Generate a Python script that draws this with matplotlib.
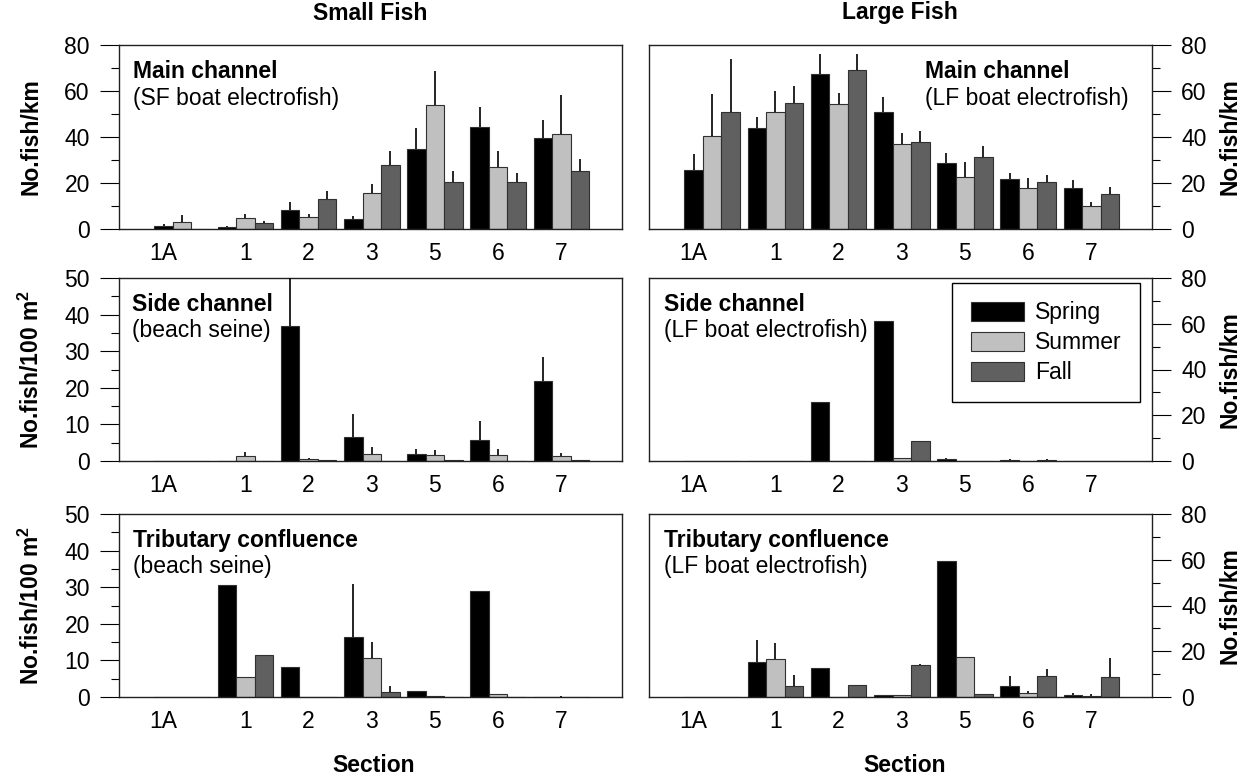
import numpy as np
import matplotlib
matplotlib.use("Agg")
import matplotlib.pyplot as plt
from matplotlib.ticker import MultipleLocator

plt.rcParams['font.family'] = ['Liberation Sans', 'DejaVu Sans']
plt.rcParams['mathtext.fontset'] = 'custom'
plt.rcParams['mathtext.rm'] = 'Liberation Sans'
plt.rcParams['mathtext.bf'] = 'Liberation Sans:bold'
plt.rcParams['font.size'] = 16.5

sections = ['1A', '1', '2', '3', '5', '6', '7']
seasons = ['Spring', 'Summer', 'Fall']
season_colors = ['#000000', '#c0c0c0', '#606060']

# small fish, main channel (No.fish/km)
sf_main_spring = [1.2, 0.9, 8.3, 4.2, 34.6, 44.3, 39.7]
sf_main_spring_err = [1.1, 0.5, 3.4, 1.3, 9.3, 8.7, 7.8]
sf_main_summer = [3.0, 4.6, 5.1, 15.8, 54.1, 27.1, 41.3]
sf_main_summer_err = [3.2, 1.8, 1.6, 3.8, 14.5, 7.0, 17.1]
sf_main_fall = [0, 2.6, 13.0, 27.8, 20.3, 20.3, 25.1]
sf_main_fall_err = [0, 0.9, 3.4, 6.1, 4.9, 4.0, 5.5]

# large fish, main channel (No.fish/km)
lf_main_spring = [25.6, 43.7, 67.3, 50.7, 28.8, 21.6, 17.7]
lf_main_spring_err = [7.1, 5.0, 8.7, 6.6, 4.3, 2.9, 3.5]
lf_main_summer = [40.5, 50.7, 54.3, 37.0, 22.8, 17.7, 9.8]
lf_main_summer_err = [18.3, 9.3, 4.8, 4.8, 6.3, 4.3, 2.0]
lf_main_fall = [51.0, 54.8, 69.0, 38.0, 31.3, 20.3, 15.4]
lf_main_fall_err = [23.0, 7.2, 6.9, 4.5, 5.0, 3.3, 2.8]

# small fish, side channel (No.fish/100 m2)
sf_side_spring = [0, 0, 36.8, 6.6, 1.9, 5.7, 21.9]
sf_side_spring_err = [0, 0, 15.2, 6.2, 1.4, 5.2, 6.6]
sf_side_summer = [0, 1.4, 0.5, 1.8, 1.6, 1.6, 1.4]
sf_side_summer_err = [0, 1.1, 0.4, 2.0, 1.4, 1.6, 0.8]
sf_side_fall = [0, 0, 0.15, 0, 0.15, 0, 0.15]
sf_side_fall_err = [0, 0, 0.2, 0, 0.2, 0, 0.2]

# large fish, side channel (No.fish/km)
lf_side_spring = [0, 0, 25.8, 61.3, 0.9, 0.6, 0]
lf_side_spring_err = [0, 0, 0, 0, 0.5, 0.4, 0]
lf_side_summer = [0, 0, 0, 1.3, 0, 0, 0]
lf_side_summer_err = [0, 0, 0, 0, 0, 0, 0]
lf_side_fall = [0, 0, 0, 8.9, 0, 0.6, 0]
lf_side_fall_err = [0, 0, 0, 0, 0, 0.4, 0]

# small fish, tributary confluence (No.fish/100 m2)
sf_trib_spring = [0, 30.6, 8.3, 16.5, 1.6, 29.0, 0]
sf_trib_spring_err = [0, 0, 0, 14.3, 0, 0, 0]
sf_trib_summer = [0, 5.4, 0, 10.7, 0.4, 0.9, 0.1]
sf_trib_summer_err = [0, 0, 0, 4.3, 0, 0, 0.3]
sf_trib_fall = [0, 11.5, 0, 1.5, 0, 0, 0]
sf_trib_fall_err = [0, 0, 0, 1.5, 0, 0, 0]

# large fish, tributary confluence (No.fish/km)
lf_trib_spring = [0, 15.4, 12.7, 0.9, 59.5, 4.9, 0.7]
lf_trib_spring_err = [0, 9.5, 0, 0, 0, 4.1, 1.0]
lf_trib_summer = [0, 16.6, 0, 0.9, 17.5, 1.7, 0.6]
lf_trib_summer_err = [0, 7.1, 0, 0, 0, 1.1, 0.7]
lf_trib_fall = [0, 4.7, 5.1, 14.0, 1.5, 9.3, 8.7]
lf_trib_fall_err = [0, 4.8, 0, 0.4, 0, 3.1, 8.2]

W, H = 1247, 777
BW = 0.293


def px_axes(fig, x0, y0, x1, y1):
    return fig.add_axes([x0 / W, 1 - y1 / H, (x1 - x0) / W, (y1 - y0) / H])


def draw_panel(ax, vals, errs, ymax, ymajor, side, title, subtitle, tx):
    x = np.arange(len(sections))
    bars = []
    for k, (v, e) in enumerate(zip(vals, errs)):
        xs = x + (k - 1) * BW
        b = ax.bar(xs, v, width=BW, color=season_colors[k], edgecolor='#303030',
                   linewidth=0.8, label=seasons[k], zorder=2)
        bars.append(b)
        ax.errorbar(xs, v, yerr=[np.zeros(len(v)), e], fmt='none', ecolor='black',
                    elinewidth=1.2, capsize=0, zorder=3)
    ax.set_xlim(-1.0, 6.96)
    ax.set_ylim(0, ymax)
    ax.yaxis.set_major_locator(MultipleLocator(ymajor))
    ax.yaxis.set_minor_locator(MultipleLocator(ymajor / 2))
    ticks = x.astype(float)
    ticks[0] -= BW
    ax.set_xticks(ticks)
    ax.set_xticklabels(sections)
    ax.tick_params(axis='x', length=0, pad=9)
    ax.tick_params(axis='y', which='major', direction='out', length=14, width=0.8, pad=7)
    ax.tick_params(axis='y', which='minor', direction='out', length=6, width=0.8)
    if side == 'right':
        ax.yaxis.tick_right()
        ax.yaxis.set_ticks_position('right')
    for sp in ax.spines.values():
        sp.set_linewidth(1.0)
        sp.set_color('#202020')
    ax.text(tx, 0.82, title, transform=ax.transAxes, fontweight='bold', va='baseline')
    ax.text(tx, 0.675, subtitle, transform=ax.transAxes, va='baseline')
    return bars


fig = plt.figure(figsize=(W / 100, H / 100), dpi=100)

ax_tl = px_axes(fig, 119, 45, 622, 229)
ax_tr = px_axes(fig, 649, 45, 1152, 229)
ax_ml = px_axes(fig, 119, 278, 622, 461)
ax_mr = px_axes(fig, 649, 278, 1152, 461)
ax_bl = px_axes(fig, 119, 514, 622, 697)
ax_br = px_axes(fig, 649, 514, 1152, 697)

draw_panel(ax_tl, [sf_main_spring, sf_main_summer, sf_main_fall],
           [sf_main_spring_err, sf_main_summer_err, sf_main_fall_err],
           80, 20, 'left', 'Main channel', '(SF boat electrofish)', 0.028)
draw_panel(ax_tr, [lf_main_spring, lf_main_summer, lf_main_fall],
           [lf_main_spring_err, lf_main_summer_err, lf_main_fall_err],
           80, 20, 'right', 'Main channel', '(LF boat electrofish)', 0.549)
draw_panel(ax_ml, [sf_side_spring, sf_side_summer, sf_side_fall],
           [sf_side_spring_err, sf_side_summer_err, sf_side_fall_err],
           50, 10, 'left', 'Side channel', '(beach seine)', 0.026)
legend_bars = draw_panel(ax_mr, [lf_side_spring, lf_side_summer, lf_side_fall],
                         [lf_side_spring_err, lf_side_summer_err, lf_side_fall_err],
                         80, 20, 'right', 'Side channel', '(LF boat electrofish)', 0.029)
draw_panel(ax_bl, [sf_trib_spring, sf_trib_summer, sf_trib_fall],
           [sf_trib_spring_err, sf_trib_summer_err, sf_trib_fall_err],
           50, 10, 'left', 'Tributary confluence', '(beach seine)', 0.028)
draw_panel(ax_br, [lf_trib_spring, lf_trib_summer, lf_trib_fall],
           [lf_trib_spring_err, lf_trib_summer_err, lf_trib_fall_err],
           80, 20, 'right', 'Tributary confluence', '(LF boat electrofish)', 0.029)

leg = ax_mr.legend(handles=legend_bars, loc='upper right', bbox_to_anchor=(0.976, 0.973),
                   borderaxespad=0, fancybox=False, framealpha=1, edgecolor='black',
                   handlelength=2.3, handleheight=0.9, handletextpad=0.5,
                   labelspacing=0.3, borderpad=0.8)
leg.get_frame().set_linewidth(1.0)

# column titles and axis labels
fig.text(370 / W, 1 - 13 / H, 'Small Fish', ha='center', va='center', fontweight='bold')
fig.text(900 / W, 1 - 13 / H, 'Large Fish', ha='center', va='center', fontweight='bold')
fig.text(374 / W, 1 - 765 / H, 'Section', ha='center', va='center', fontweight='bold')
fig.text(905 / W, 1 - 765 / H, 'Section', ha='center', va='center', fontweight='bold')

area_label = r'No.fish/100 m$^{\mathbf{2}}$'
for yc, lab in [(137, 'No.fish/km'), (369.5, area_label), (605.5, area_label)]:
    fig.text(31 / W, 1 - yc / H, lab, rotation=90, ha='center', va='center', fontweight='bold')
for yc in [137, 369.5, 605.5]:
    fig.text(1230 / W, 1 - yc / H, 'No.fish/km', rotation=90, ha='center', va='center',
             fontweight='bold')

fig.savefig('out.png', dpi=100)
